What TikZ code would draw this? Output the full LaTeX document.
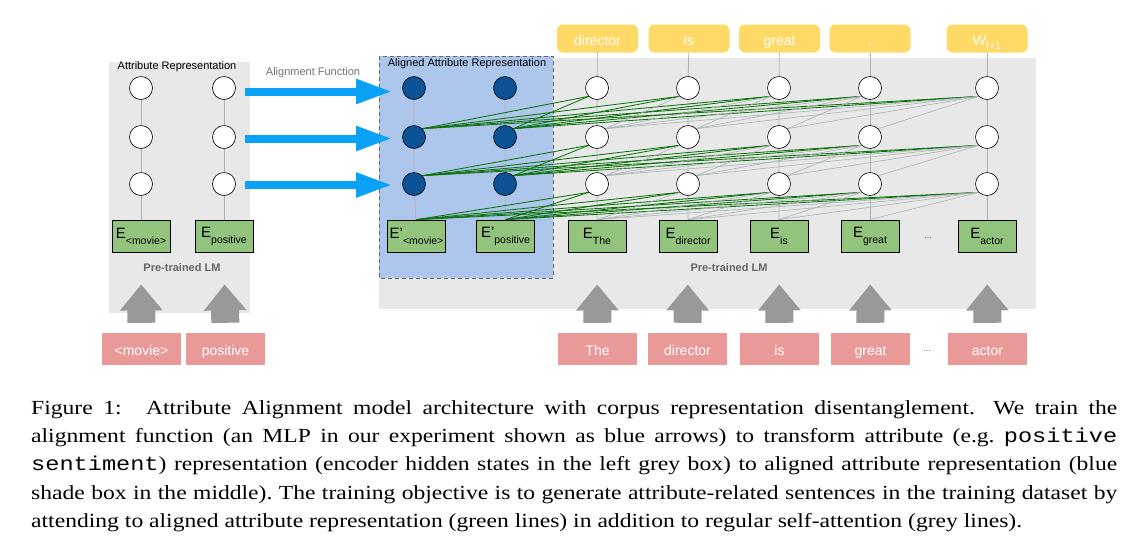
\documentclass[tikz,border=0pt]{standalone}
\usepackage{fontspec}
\setmainfont{Liberation Sans}
\newfontfamily\captionfont[FakeStretch=1.18]{Liberation Serif}
\newfontfamily\captionmono[FakeStretch=1.18]{Liberation Mono}
\usetikzlibrary{arrows.meta}

\definecolor{hintergrau}{HTML}{E8E8E8}
\definecolor{hellblau}{HTML}{ADC6EC}
\definecolor{dunkelblau}{HTML}{0B5394}
\definecolor{hellgruen}{HTML}{93C47D}
\definecolor{gelb}{HTML}{FFD966}
\definecolor{rosa}{HTML}{EA9999}
\definecolor{pfeilgrau}{HTML}{999999}
\definecolor{pfeilblau}{HTML}{0AA2F7}
\definecolor{gruenlinie}{HTML}{0F730F}
\definecolor{liniengrau}{HTML}{A9B3B3}

\pgfdeclarelayer{hinten}
\pgfdeclarelayer{linien}
\pgfsetlayers{hinten,linien,main}

\newcommand{\Esub}[3][-6pt]{#2\raisebox{#1}{\fontsize{10.5}{10.5}\selectfont #3}}
\newcommand{\tw}[1]{{\captionmono\fontsize{20}{28}\selectfont #1}}

\begin{document}
\frenchspacing
\begin{tikzpicture}[x=1pt, y=-1pt,
	neuron/.style={circle, draw=black, line width=0.6pt, fill=white, minimum size=23pt, inner sep=0pt},
	aligned/.style={neuron, fill=dunkelblau},
	emb/.style={draw=black, line width=0.8pt, fill=hellgruen, minimum width=58pt, minimum height=32pt, inner sep=1pt, font=\fontsize{15}{15}\selectfont},
	ausgabe/.style={fill=gelb, rounded corners=6pt, minimum width=81pt, minimum height=28pt, text height=14pt, text depth=1pt, text=white, font=\fontsize{14}{14}\selectfont},
	eingabe/.style={fill=rosa, minimum width=79pt, minimum height=32pt, text height=14pt, text depth=1pt, text=white, font=\fontsize{14}{14}\selectfont},
	titel/.style={font=\fontsize{11}{11}\selectfont},
	lm/.style={text=black!60, font=\fontsize{11}{11}\selectfont\bfseries},
	punkte/.style={text=black!60, font=\fontsize{9}{9}\selectfont},
	senkrecht/.style={draw=liniengrau, line width=0.8pt},
	gruen/.style={draw=gruenlinie, line width=0.85pt},
	grau/.style={draw=liniengrau, line width=0.6pt},
	hochpfeil/.style={draw=pfeilgrau, line width=28pt, -{Triangle[length=26pt,width=41pt]}, shorten <=10pt, shorten >=32pt},
	blaupfeil/.style={draw=pfeilblau, line width=8pt, -{Triangle[length=36pt,width=23pt]}, shorten <=9pt, shorten >=10pt},
	caption/.style={anchor=base west, inner sep=0pt, font=\captionfont\fontsize{20}{28}\selectfont}]
	\useasboundingbox (0,0) rectangle (1134,558);

	% Hintergrund
	\begin{pgfonlayer}{hinten}
		\fill[hintergrau] (109,62) rectangle (250,313);
		\fill[hintergrau] (379,58) rectangle (1036,309);
		\draw[fill=hellblau, draw=black!60, line width=0.8pt, dash pattern=on 4pt off 3pt] (379,56) rectangle (553,278);
	\end{pgfonlayer}

	% Neuronen
	\foreach \r/\y in {1/88,2/137,3/184} {
		\foreach \s/\x in {1/141,2/224} \node[neuron] (a-\s-\r) at (\x,\y) {};
		\foreach \s/\x in {1/414,2/505} \node[aligned] (b-\s-\r) at (\x,\y) {};
		\foreach \s/\x in {1/597,2/688,3/779,4/870,5/987} \node[neuron] (h-\s-\r) at (\x,\y) {};
	}

	% Embeddings
	\node[emb] (ea-1) at (141,236) {\Esub{E}{<movie>}};
	\node[emb] (ea-2) at (224,236) {\Esub{E}{positive}};
	\node[emb] (eb-1) at (416.5,236) {\Esub{E’}{<movie>}};
	\node[emb] (eb-2) at (505.5,236) {\Esub{E’}{positive}};
	\foreach \s/\x/\w in {1/597/The,2/688/director,3/779/is,4/870/great,5/987/actor}
		\node[emb] (e-\s) at (\x,236) {\Esub{E}{\w}};
	\node[punkte] (dots-e) at (928,238) {...};

	% Ausgabe oben
	\foreach \s/\x/\w in {1/597.5/director,2/689/is,3/779.5/great,4/870/{,}}
		\node[ausgabe] (y-\s) at (\x,38.5) {\w};
	\node[ausgabe] (y-5) at (987,38.5) {\Esub[-4pt]{W}{t+1}};

	% Eingabe unten
	\node[eingabe] (wa-1) at (141.5,349) {<movie>};
	\node[eingabe] (wa-2) at (225.5,349) {positive};
	\foreach \s/\x/\w in {1/597.5/The,2/687.5/director,3/779.5/is,4/870.5/great,5/987.5/actor}
		\node[eingabe] (w-\s) at (\x,349) {\w};
	\node[punkte] (dots-w) at (927,351) {...};

	% Beschriftungen
	\node[titel] (t-attr) at (177,67) {Attribute Representation};
	\node[titel] (t-align) at (467,64) {Aligned Attribute Representation};
	\node[titel, text=black!55] (t-func) at (313,73) {Alignment Function};
	\node[lm] (lm-l) at (182,268) {Pre-trained LM};
	\node[lm] (lm-r) at (729,268) {Pre-trained LM};

	% Verbindungen
	\begin{pgfonlayer}{linien}
		\foreach \s in {1,2} {
			\draw[senkrecht] (a-\s-1) -- (a-\s-2) -- (a-\s-3) -- (ea-\s);
			\draw[senkrecht] (b-\s-1) -- (b-\s-2) -- (b-\s-3) -- (eb-\s);
		}
		\foreach \j in {1,...,5} {
			\draw[senkrecht] (y-\j) -- (h-\j-1) -- (h-\j-2) -- (h-\j-3) -- (e-\j);
			% Attention auf die Attributdarstellung
			\foreach \r/\n in {1/2,2/3} {
				\draw[gruen] (h-\j-\r.south west) -- (b-1-\n.north east);
				\draw[gruen] (h-\j-\r.south west) -- (b-2-\n.north east);
			}
			\draw[gruen] (h-\j-3.south west) -- (eb-1.north);
			\draw[gruen] (h-\j-3.south west) -- (eb-2.north);
		}
		% Self-Attention
		\foreach \j in {2,...,5} {
			\pgfmathtruncatemacro\k{\j-1}
			\foreach \i in {1,...,\k} {
				\draw[grau] (h-\j-1.south west) -- (h-\i-2.north east);
				\draw[grau] (h-\j-2.south west) -- (h-\i-3.north east);
				\draw[grau] (h-\j-3.south west) -- (e-\i.north);
			}
		}
	\end{pgfonlayer}

	% Pfeile
	\foreach \r/\d in {1/-3.5,2/-1.5,3/-1}
		\draw[blaupfeil] ([yshift=\d pt]a-2-\r.east) -- ([yshift=\d pt]b-1-\r.west);
	\foreach \s in {1,2}
		\draw[hochpfeil] (wa-\s.north) -- (ea-\s.south);
	\foreach \s in {1,...,5}
		\draw[hochpfeil] (w-\s.north) -- (e-\s.south);

	% Bildunterschrift
	\node[caption] (cap-1) at (31,414.3) {\makebox[1086pt][s]{Figure 1:\hspace{0.7em} Attribute Alignment model architecture with corpus representation disentanglement.\hspace{0.4em} We train the}};
	\node[caption] (cap-2) at (31,442.6) {\makebox[1086pt][s]{alignment function (an MLP in our experiment shown as blue arrows) to transform attribute (e.g. \tw{positive}}};
	\node[caption] (cap-3) at (31,470.9) {\makebox[1086pt][s]{\tw{sentiment}) representation (encoder hidden states in the left grey box) to aligned attribute representation (blue}};
	\node[caption] (cap-4) at (31,499.2) {\makebox[1086pt][s]{shade box in the middle). The training objective is to generate attribute-related sentences in the training dataset by}};
	\node[caption] (cap-5) at (31,527.5) {attending to aligned attribute representation (green lines) in addition to regular self-attention (grey lines).};
\end{tikzpicture}
\end{document}
